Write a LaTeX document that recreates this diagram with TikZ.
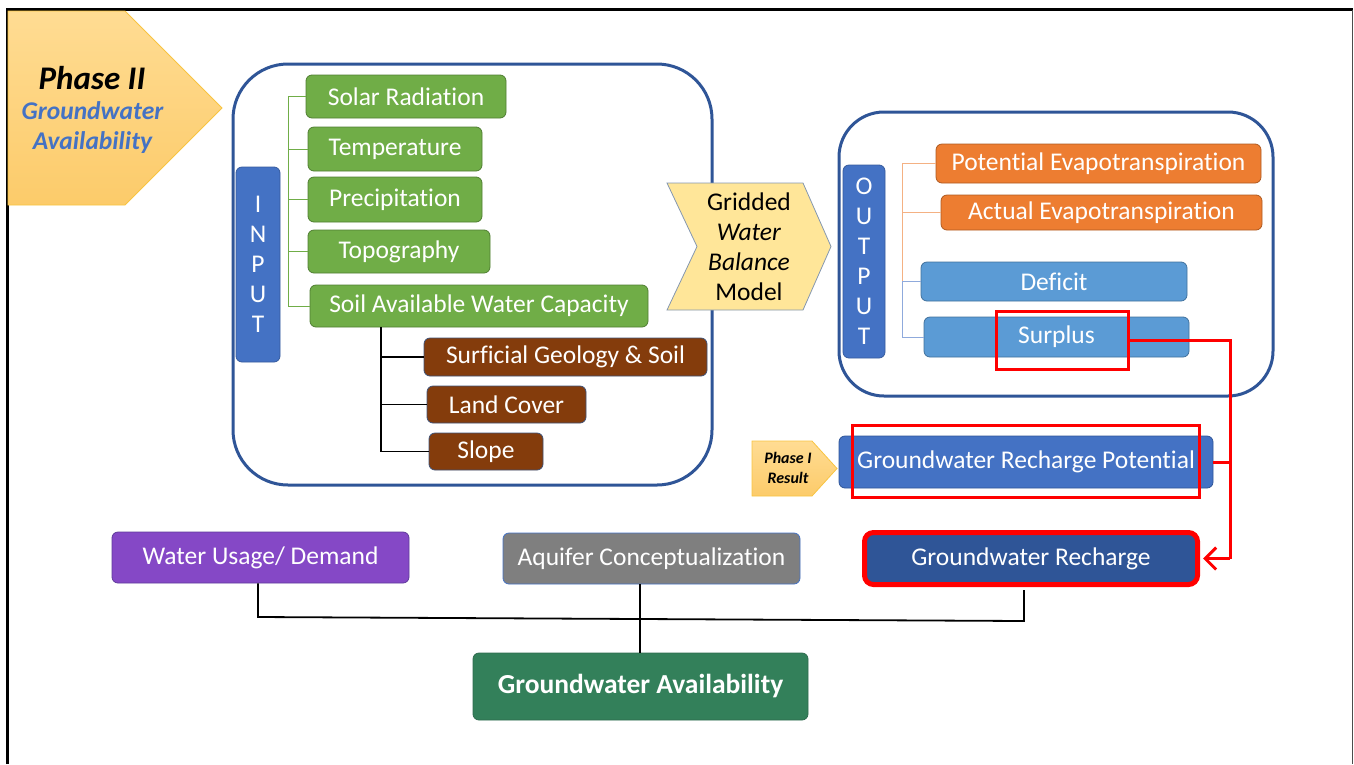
\documentclass[tikz,border=0pt]{standalone}
\usepackage{fontspec}
\setmainfont[Ligatures=NoCommon]{Carlito}
\usetikzlibrary{arrows.meta}
\definecolor{frameblue}{HTML}{2F5597}
\definecolor{gfill}{HTML}{70AD47}
\definecolor{gline}{HTML}{507E32}
\definecolor{bfill}{HTML}{843C0C}
\definecolor{bline}{HTML}{3F5277}
\definecolor{ofill}{HTML}{ED7D31}
\definecolor{oline}{HTML}{AE5A21}
\definecolor{lbfill}{HTML}{5B9BD5}
\definecolor{lbline}{HTML}{41719C}
\definecolor{mbfill}{HTML}{4472C4}
\definecolor{dbfill}{HTML}{2F5597}
\definecolor{pfill}{HTML}{8548C6}
\definecolor{pline}{HTML}{5E3A9A}
\definecolor{grayfill}{HTML}{7F7F7F}
\definecolor{gafill}{HTML}{33805A}
\definecolor{galine}{HTML}{2E6B4E}
\definecolor{yfill}{HTML}{FFE699}
\definecolor{yline}{HTML}{8497B0}
\definecolor{ptop}{HTML}{FFDC93}
\definecolor{pbot}{HTML}{FCCB6A}
\definecolor{pborder}{HTML}{F8C441}
\definecolor{lorange}{HTML}{F4B183}
\definecolor{lblue}{HTML}{8FAADC}
\definecolor{rred}{HTML}{FF0000}
\newcommand\fs{\fontsize{25.5}{30}\selectfont}
\begin{document}
\begin{tikzpicture}[x=1pt,y=-1pt,
  rbox/.style={rounded corners=6pt, draw, line width=0.8pt, text=white, font=\fs, inner sep=0pt},
  green/.style={rbox, fill=gfill, draw=gline},
  brown/.style={rbox, fill=bfill, draw=bline},
  orange/.style={rbox, fill=ofill, draw=oline},
  lightblue/.style={rbox, fill=lbfill, draw=lbline},
  bar/.style={rbox, fill=mbfill, draw=mbfill!80!black, align=center},
  bigframe/.style={draw=frameblue, line width=3pt, rounded corners=55pt},
  gconn/.style={draw=gfill, line width=1pt},
  kconn/.style={draw=black, line width=1.2pt},
  oconn/.style={draw=lorange, line width=1pt},
  bconn/.style={draw=lblue, line width=1pt},
  redline/.style={draw=rred, line width=3pt},
]
\useasboundingbox (0,0) rectangle (1354,764);
% outer frame
\draw[line width=2.2pt] (7.5,764) -- (7.5,9.5) -- (1352.5,9.5);
\draw[line width=1.2pt, black!70] (1352.5,9.5) -- (1352.5,764);

% Phase II pentagon
\path[top color=ptop, bottom color=pbot, draw=pborder, line width=0.8pt]
  (8,11) -- (125,11) -- (222,108) -- (125,205) -- (8,205) -- cycle;
\node[font=\fontsize{33}{36}\selectfont\bfseries\itshape] (ph2) at (92,78) {Phase II};
\node[font=\fontsize{25.5}{30}\selectfont\bfseries\itshape, text=mbfill, align=center] (gwa) at (92.5,128) {Groundwater\\Availability};

% Input frame
\draw[bigframe] (233,64) rectangle (712,485);
\node[bar, minimum width=44, minimum height=195] (inbar) at (258,264.5) {I\\N\\P\\U\\T};

\node[green, minimum width=200, minimum height=43] (solar) at (406,96.5) {Solar Radiation};
\node[green, minimum width=174, minimum height=44] (temp) at (395,149) {Temperature};
\node[green, minimum width=174, minimum height=45] (prec) at (395,199.5) {Precipitation};
\node[green, minimum width=182, minimum height=43] (topo) at (399,251.5) {Topography};
\node[green, minimum width=338, minimum height=42] (soil) at (479,306) {Soil Available Water Capacity};
\node[brown, minimum width=283, minimum height=38] (surf) at (565.5,357) {Surficial Geology \& Soil};
\node[brown, minimum width=159, minimum height=37] (land) at (506.5,404.5) {Land Cover};
\node[brown, minimum width=114, minimum height=37] (slope) at (486,451.5) {Slope};

\coordinate (gv) at (288,0);
\draw[gconn] (gv |- solar.west) -- (gv |- soil.west);
\foreach \n in {solar,temp,prec,topo,soil} \draw[gconn] (gv |- \n.west) -- (\n.west);
\coordinate (bv) at (381,0);
\draw[kconn] (bv |- soil.south) -- (bv |- slope.west);
\foreach \n in {surf,land,slope} \draw[kconn] (bv |- \n.west) -- (\n.west);

% Gridded water balance model chevron
\path[fill=yfill, draw=yline, line width=0.8pt]
  (667,183) -- (803,183) -- (831,246.5) -- (803,310) -- (667,310) -- (697,246.5) -- cycle;
\node[font=\fs, align=center] (gwbm) at (749,247) {Gridded\\\textit{Water}\\\textit{Balance}\\Model};

% Output frame
\draw[bigframe, rounded corners=45pt] (839,112) rectangle (1273,396);
\node[bar, minimum width=42, minimum height=193] (outbar) at (864,261.5) {O\\U\\T\\P\\U\\T};
\node[orange, minimum width=325, minimum height=39] (pe) at (1098.5,163.5) {Potential Evapotranspiration};
\node[orange, minimum width=321, minimum height=35] (ae) at (1101.5,212.5) {Actual Evapotranspiration};
\node[lightblue, minimum width=266, minimum height=39] (def) at (1054,281.5) {Deficit};
\node[lightblue, minimum width=265, minimum height=40] (sur) at (1056.5,337) {Surplus};

\coordinate (ov) at (902,0);
\draw[oconn] (ov |- pe.west) -- (ov |- def.west);
\draw[oconn] (ov |- pe.west) -- (pe.west);
\draw[oconn] (ov |- ae.west) -- (ae.west);
\draw[bconn] (ov |- def.west) -- (ov |- sur.west);
\draw[bconn] (ov |- def.west) -- (def.west);
\draw[bconn] (ov |- sur.west) -- (sur.west);

\node[draw=rred, line width=3pt, minimum width=132, minimum height=58, inner sep=0pt] (surrect) at (1062,340) {};

% Phase I result
\path[top color=ptop, bottom color=pbot, draw=pborder, line width=0.8pt]
  (752,441) -- (812,441) -- (837,468.5) -- (812,496) -- (752,496) -- cycle;
\node[font=\fontsize{16}{20}\selectfont\bfseries\itshape, align=center] (ph1) at (788,468) {Phase I\\Result};

\node[rbox, fill=mbfill, draw=dbfill, minimum width=374, minimum height=52] (grp) at (1026,462) {Groundwater Recharge Potential};
\node[draw=rred, line width=3pt, minimum width=347, minimum height=72, inner sep=0pt] (grprect) at (1025.5,461) {};

\node[rbox, fill=dbfill, draw=rred, line width=5pt, rounded corners=9pt, minimum width=333, minimum height=52] (gr) at (1031,558.5) {Groundwater Recharge};

% red connectors
\coordinate (rx) at (1230,0);
\draw[redline] (surrect.east) -- (rx |- surrect.east) -- (rx |- gr.east);
\draw[redline, -{Straight Barb[length=11pt,width=22pt,line width=3pt]}] (rx |- gr.east) -- ([xshift=3pt]gr.east);
\draw[redline] (grp.east) -- (rx |- grp.east);

% bottom row
\node[rbox, fill=pfill, draw=pline, minimum width=297, minimum height=51] (wu) at (260.5,557.5) {Water Usage/ Demand};
\node[rbox, fill=grayfill, draw=mbfill, minimum width=297, minimum height=51] (ac) at (651.5,558.5) {Aquifer Conceptualization};
\node[rbox, fill=gafill, draw=galine, minimum width=335, minimum height=67, font=\fontsize{27.5}{32}\selectfont\bfseries] (ga) at (640.5,686.5) {Groundwater Availability};

\coordinate (hl) at (258,617);
\coordinate (hm) at (640,619);
\coordinate (hr) at (1024,621);
\draw[kconn, line width=1.8pt] (hl |- wu.south) -- (hl) -- (hr) -- ([yshift=-3pt]hr |- gr.south);
\draw[kconn, line width=1.5pt] (hm |- ac.south) -- (hm) -- (hm |- ga.north);
\end{tikzpicture}
\end{document}
